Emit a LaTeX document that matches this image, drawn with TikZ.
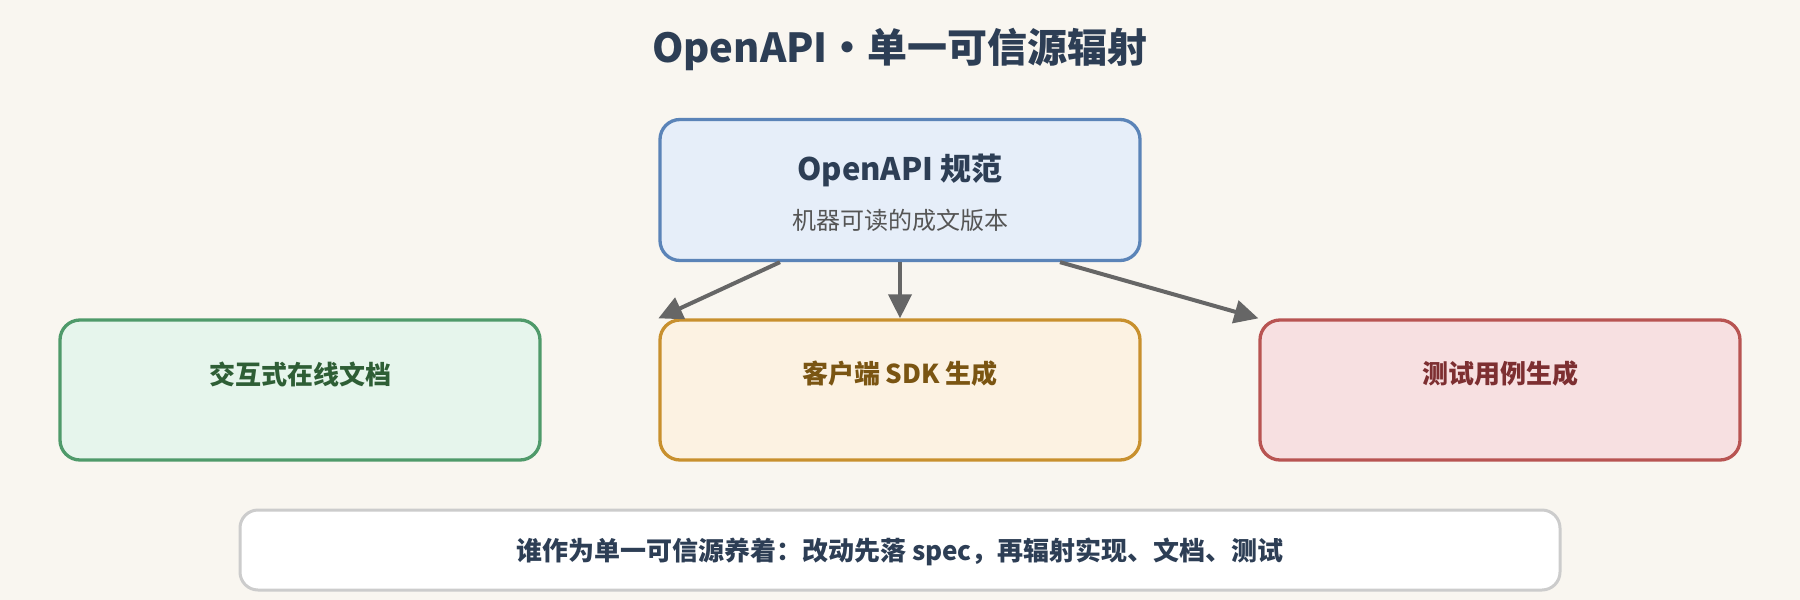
\documentclass[tikz,border=0pt]{standalone}
\usepackage{fontspec}
\setmainfont{Noto Sans CJK SC}
\usetikzlibrary{arrows.meta}
\definecolor{bgc}{HTML}{F9F6F0}
\definecolor{ink}{HTML}{2D3E55}
\definecolor{subc}{HTML}{555555}
\definecolor{arrc}{HTML}{666666}
\definecolor{bluef}{HTML}{E6EEF9}\definecolor{blued}{HTML}{5B84B8}
\definecolor{greenf}{HTML}{E6F5EC}\definecolor{greend}{HTML}{4F9A6A}\definecolor{greent}{HTML}{2E5E35}
\definecolor{yellf}{HTML}{FCF2E2}\definecolor{yelld}{HTML}{C8902E}\definecolor{yellt}{HTML}{7A5512}
\definecolor{redf}{HTML}{F7E0E1}\definecolor{redd}{HTML}{B85452}\definecolor{redt}{HTML}{7D2F31}
\definecolor{grayd}{HTML}{CCCCCC}
\tikzset{
  card/.style={draw, rectangle, rounded corners=20pt, line width=3.3pt, minimum width=480pt, minimum height=140pt, inner sep=0pt},
  lbl/.style={font=\fontsize{26pt}{30pt}\selectfont\bfseries, inner sep=0pt, anchor=center},
  arr/.style={draw=arrc, line width=4pt, -{Triangle[length=24pt,width=23pt]}},
}
\begin{document}
\begin{tikzpicture}[x=1pt,y=-1pt]
\useasboundingbox (0,0) rectangle (1800,600);
\fill[bgc] (0,0) rectangle (1800,600);
\node[font=\fontsize{40pt}{46pt}\selectfont\bfseries, text=ink] (title) at (900,49) {OpenAPI・单一可信源辐射};
\node[card, fill=bluef, draw=blued, minimum height=141pt] (top) at (900,190) {};
\node[font=\fontsize{31pt}{36pt}\selectfont\bfseries, text=ink, inner sep=0pt] (toph) at (900,170) {OpenAPI 规范};
\node[font=\fontsize{24pt}{28pt}\selectfont, text=subc, inner sep=0pt] (tops) at (900,220) {机器可读的成文版本};
\node[card, fill=greenf, draw=greend] (lft) at (300,390) {};
\node[lbl, text=greent] (lftt) at (300,374) {交互式在线文档};
\node[card, fill=yellf, draw=yelld] (mid) at (900,390) {};
\node[lbl, text=yellt] (midt) at (900,374) {客户端 SDK 生成};
\node[card, fill=redf, draw=redd] (rgt) at (1500,390) {};
\node[lbl, text=redt] (rgtt) at (1500,374) {测试用例生成};
\node[draw=grayd, fill=white, rectangle, rounded corners=18pt, line width=3pt, minimum width=1320pt, minimum height=80pt] (note) at (900,550) {};
\node[lbl, text=ink] (notet) at (900,552) {谁作为单一可信源养着：改动先落 spec，再辐射实现、文档、测试};
\draw[arr] ([xshift=-120pt]top.south) -- (mid.north west);
\draw[arr] (top.south) -- (mid.north);
\draw[arr] ([xshift=160pt]top.south) -- (rgt.north west);
\end{tikzpicture}
\end{document}
